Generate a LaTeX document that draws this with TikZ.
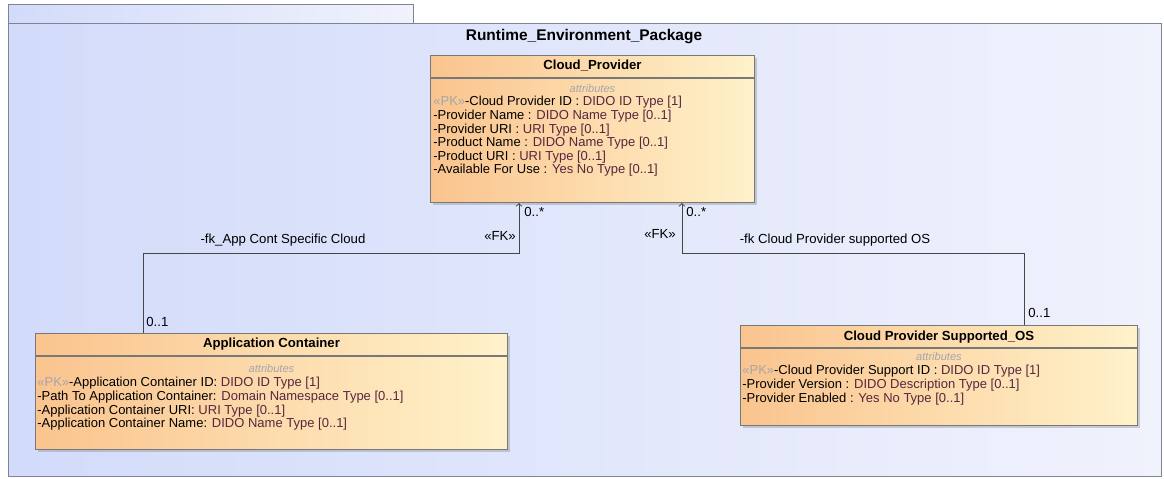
\documentclass[tikz,border=0pt]{standalone}
\usepackage{fontspec}
\setmainfont{Liberation Sans}
\usetikzlibrary{shadows}
\definecolor{pkgfillL}{RGB}{210,219,250}
\definecolor{pkgfillR}{RGB}{240,242,252}
\definecolor{pkgline}{RGB}{128,132,145}
\definecolor{clsL}{RGB}{250,196,142}
\definecolor{clsR}{RGB}{255,242,202}
\definecolor{clsline}{RGB}{120,120,120}
\definecolor{typecol}{RGB}{88,38,62}
\definecolor{stereo}{RGB}{165,165,172}
\definecolor{conn}{RGB}{70,70,70}
\newcommand{\pk}{\textcolor{stereo}{«PK»}}
\newcommand{\ty}[1]{\textcolor{typecol}{#1}}

\begin{document}
\begin{tikzpicture}[
  x=0.02cm, y=-0.02cm,
  pkg/.style={draw=pkgline, line width=0.6pt, left color=pkgfillL,
              right color=pkgfillR, anchor=north west, inner sep=0},
  cls/.style={draw=clsline, line width=0.6pt, left color=clsL,
              right color=clsR, anchor=north west, inner sep=0,
              drop shadow={shadow xshift=1.2pt, shadow yshift=-1.2pt,
                           opacity=0.35}},
  ttl/.style={font=\fontsize{7.5}{9}\selectfont\bfseries, inner sep=0},
  attr/.style={font=\fontsize{7.4}{7.75}\selectfont, align=left,
               anchor=north west, inner sep=0},
  attrhd/.style={font=\fontsize{6.3}{7}\selectfont\itshape, text=stereo,
                 inner sep=0},
  lbl/.style={font=\fontsize{7.5}{8}\selectfont, inner sep=0},
  arr/.style={->, conn, line width=0.5pt}
]
\useasboundingbox (0,0) rectangle (1164,478);

% package
\node[pkg, minimum width=8.1cm, minimum height=0.38cm] (tab) at (8,4) {};
\node[pkg, minimum width=23.06cm, minimum height=9.06cm] (pack) at (8,23) {};
\node[ttl, font=\fontsize{8.8}{10}\selectfont\bfseries] (pkgname) at (584,37)
  {Runtime\_Environment\_Package};

% classes
\node[cls, minimum width=6.48cm, minimum height=2.94cm] (cp) at (430,55) {};
\node[cls, minimum width=9.44cm, minimum height=2.32cm] (ac) at (35,333) {};
\node[cls, minimum width=7.94cm, minimum height=2.0cm] (os) at (740,325) {};

\node[ttl] (cpname) at ([yshift=-0.22cm]cp.north) {Cloud\_Provider};
\node[ttl] (acname) at ([yshift=-0.22cm]ac.north) {Application Container};
\node[ttl] (osname) at ([yshift=-0.24cm]os.north) {Cloud Provider Supported\_OS};

\draw[clsline, line width=0.6pt] ([yshift=-0.46cm]cp.north west) -- ([yshift=-0.46cm]cp.north east);
\draw[clsline, line width=0.6pt] ([yshift=-0.46cm]ac.north west) -- ([yshift=-0.46cm]ac.north east);
\draw[clsline, line width=0.6pt] ([yshift=-0.46cm]os.north west) -- ([yshift=-0.46cm]os.north east);

\node[attrhd] (cphd) at ([yshift=-0.68cm]cp.north) {attributes};
\node[attrhd] (achd) at ([yshift=-0.72cm]ac.north) {attributes};
\node[attrhd] (oshd) at ([yshift=-0.64cm]os.north) {attributes};

\node[attr] (cpattr) at (433,96) {%
  \pk-Cloud Provider ID : \ty{DIDO ID Type [1]}\\
  -Provider Name : \ty{DIDO Name Type [0..1]}\\
  -Provider URI : \ty{URI Type [0..1]}\\
  -Product Name : \ty{DIDO Name Type [0..1]}\\
  -Product URI : \ty{URI Type [0..1]}\\
  -Available For Use : \ty{Yes No Type [0..1]}};
\node[attr] (acattr) at (37,377) {%
  \pk-Application Container ID: \ty{DIDO ID Type [1]}\\
  -Path To Application Container: \ty{Domain Namespace Type [0..1]}\\
  -Application Container URI: \ty{URI Type [0..1]}\\
  -Application Container Name: \ty{DIDO Name Type [0..1]}};
\node[attr] (osattr) at (742,365) {%
  \pk-Cloud Provider Support ID : \ty{DIDO ID Type [1]}\\
  -Provider Version : \ty{DIDO Description Type [0..1]}\\
  -Provider Enabled : \ty{Yes No Type [0..1]}};

% foreign keys
\draw[arr] ([xshift=2.16cm]ac.north west) -- ++(0,-80) -| ([xshift=1.78cm]cp.south west);
\draw[arr] ([xshift=5.68cm]os.north west) -- ++(0,-72) -| ([xshift=5.04cm]cp.south west);

\node[lbl, anchor=west] (m1) at (524,212) {0..*};
\node[lbl] (fk1) at (500,236) {«FK»};
\node[lbl] (r1) at (283,240) {-fk\_App Cont Specific Cloud};
\node[lbl, anchor=west] (m2) at (146,322) {0..1};
\node[lbl, anchor=west] (m3) at (686,212) {0..*};
\node[lbl] (fk2) at (660,234) {«FK»};
\node[lbl] (r2) at (835,240) {-fk Cloud Provider supported OS};
\node[lbl, anchor=west] (m4) at (1028,313) {0..1};

\end{tikzpicture}
\end{document}
